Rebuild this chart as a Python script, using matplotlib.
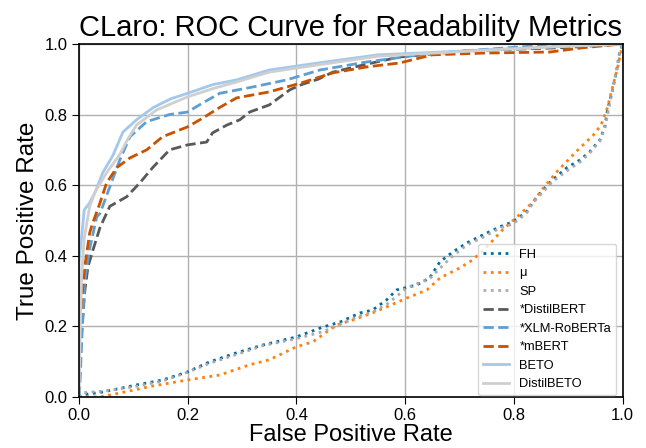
import matplotlib
matplotlib.use('Agg')
import matplotlib.pyplot as plt

plt.rcParams['font.family'] = ['Liberation Sans', 'DejaVu Sans']

# ROC points (fpr, tpr)
fh_fpr = [0, 0.007, 0.044, 0.106, 0.154, 0.2, 0.24, 0.29, 0.338, 0.40, 0.449, 0.48, 0.517, 0.54,
          0.566, 0.584, 0.621, 0.645, 0.664, 0.688, 0.713, 0.743, 0.774, 0.798, 0.823, 0.835,
          0.853, 0.871, 0.897, 0.921, 0.939, 0.958, 0.967, 0.972, 0.98, 0.989, 0.994, 1]
fh_tpr = [0, 0.006, 0.014, 0.034, 0.048, 0.071, 0.099, 0.125, 0.147, 0.17, 0.198, 0.212, 0.238, 0.246,
          0.275, 0.303, 0.317, 0.337, 0.383, 0.411, 0.436, 0.459, 0.482, 0.496, 0.524, 0.552,
          0.586, 0.615, 0.649, 0.671, 0.694, 0.728, 0.765, 0.813, 0.861, 0.926, 0.974, 1]

mu_fpr = [0, 0.04, 0.075, 0.136, 0.2, 0.259, 0.314, 0.35, 0.40, 0.43, 0.474, 0.504, 0.54, 0.566,
          0.603, 0.64, 0.664, 0.70, 0.724, 0.75, 0.779, 0.81, 0.835, 0.853, 0.88, 0.921, 0.945,
          0.96, 0.972, 0.98, 0.99, 1]
mu_tpr = [0, 0.0, 0.011, 0.031, 0.048, 0.062, 0.091, 0.105, 0.142, 0.156, 0.204, 0.218, 0.238, 0.255,
          0.28, 0.303, 0.337, 0.365, 0.388, 0.425, 0.473, 0.516, 0.552, 0.59, 0.64, 0.705, 0.74,
          0.77, 0.82, 0.87, 0.93, 1]

sp_fpr = [0, 0.007, 0.044, 0.106, 0.154, 0.2, 0.24, 0.29, 0.338, 0.40, 0.449, 0.48, 0.517, 0.54,
          0.566, 0.603, 0.645, 0.664, 0.688, 0.713, 0.743, 0.774, 0.798, 0.823, 0.835, 0.871,
          0.897, 0.921, 0.939, 0.958, 0.967, 0.98, 0.994, 1]
sp_tpr = [0, 0.012, 0.016, 0.03, 0.045, 0.07, 0.095, 0.12, 0.145, 0.165, 0.185, 0.205, 0.23, 0.24,
          0.262, 0.309, 0.335, 0.365, 0.40, 0.43, 0.452, 0.478, 0.49, 0.52, 0.55, 0.61,
          0.64, 0.665, 0.69, 0.725, 0.76, 0.86, 0.97, 1]

distilbert_fpr = [0, 0.005, 0.011, 0.017, 0.026, 0.039, 0.057, 0.088, 0.112, 0.136, 0.167, 0.2,
                  0.235, 0.246, 0.272, 0.296, 0.314, 0.35, 0.388, 0.41, 0.44, 0.467, 0.53, 0.59,
                  0.71, 0.9, 1]
distilbert_tpr = [0, 0.18, 0.30, 0.37, 0.416, 0.48, 0.54, 0.567, 0.606, 0.65, 0.70, 0.714,
                  0.722, 0.748, 0.77, 0.785, 0.807, 0.827, 0.87, 0.885, 0.9, 0.92, 0.943, 0.963,
                  0.98, 0.99, 1]

xlm_fpr = [0, 0.002, 0.005, 0.011, 0.02, 0.033, 0.039, 0.057, 0.075, 0.094, 0.125, 0.167, 0.2,
           0.228, 0.259, 0.32, 0.382, 0.443, 0.53, 0.65, 0.835, 1]
xlm_tpr = [0, 0.03, 0.15, 0.33, 0.42, 0.51, 0.52, 0.595, 0.67, 0.737, 0.78, 0.80, 0.807,
           0.833, 0.86, 0.878, 0.898, 0.926, 0.949, 0.974, 0.994, 1]

mbert_fpr = [0, 0, 0.005, 0.011, 0.02, 0.025, 0.039, 0.051, 0.07, 0.094, 0.125, 0.154, 0.2,
             0.228, 0.259, 0.29, 0.35, 0.41, 0.467, 0.53, 0.59, 0.65, 0.743, 0.866, 0.926, 1]
mbert_tpr = [0, 0.13, 0.275, 0.37, 0.465, 0.49, 0.55, 0.606, 0.65, 0.677, 0.70, 0.737, 0.765,
             0.79, 0.82, 0.847, 0.864, 0.89, 0.918, 0.935, 0.946, 0.969, 0.974, 0.977, 0.989, 1]

beto_fpr = [0, 0, 0.005, 0.01, 0.02, 0.03, 0.044, 0.063, 0.081, 0.106, 0.137, 0.17, 0.2, 0.247,
            0.29, 0.35, 0.44, 0.55, 0.71, 0.9, 1]
beto_tpr = [0, 0.38, 0.45, 0.53, 0.55, 0.58, 0.635, 0.685, 0.75, 0.785, 0.82, 0.845, 0.86, 0.885,
            0.898, 0.926, 0.946, 0.969, 0.98, 0.994, 1]

distilbeto_fpr = [0, 0.005, 0.01, 0.02, 0.03, 0.051, 0.075, 0.09, 0.106, 0.143, 0.2, 0.25, 0.29,
                  0.35, 0.437, 0.55, 0.7, 0.85, 1]
distilbeto_tpr = [0, 0.34, 0.45, 0.54, 0.58, 0.635, 0.686, 0.73, 0.77, 0.813, 0.85, 0.875, 0.892,
                  0.92, 0.94, 0.965, 0.978, 0.99, 1]

curves = [
    ("FH", fh_fpr, fh_tpr, '#006BA4', ':'),
    ("μ", mu_fpr, mu_tpr, '#FF800E', ':'),
    ("SP", sp_fpr, sp_tpr, '#ABABAB', ':'),
    ("*DistilBERT", distilbert_fpr, distilbert_tpr, '#595959', '--'),
    ("*XLM-RoBERTa", xlm_fpr, xlm_tpr, '#5F9ED1', '--'),
    ("*mBERT", mbert_fpr, mbert_tpr, '#C85200', '--'),
    ("BETO", beto_fpr, beto_tpr, '#A2C8EC', '-'),
    ("DistilBETO", distilbeto_fpr, distilbeto_tpr, '#CFCFCF', '-'),
]

fig = plt.figure(figsize=(6.46, 4.48), dpi=100)
ax = fig.add_axes([0.122, 0.114, 0.842, 0.788])

for name, fpr, tpr, color, ls in curves:
    ax.plot(fpr, tpr, linestyle=ls, color=color, linewidth=2, label=name)

ax.set_xlim(0, 1)
ax.set_ylim(0, 1)
ax.grid(True, color='#b0b0b0', linewidth=1)
ax.set_axisbelow(True)
for sp in ax.spines.values():
    sp.set_color('black')
    sp.set_linewidth(1.2)
ax.tick_params(labelsize=12, length=5, pad=3)

ax.set_title("CLaro: ROC Curve for Readability Metrics", fontsize=21)
# label sits right at the bottom edge, as in the original
ax.set_xlabel("False Positive Rate", fontsize=17, labelpad=1)
ax.set_ylabel("True Positive Rate", fontsize=17.5)

ax.legend(loc='lower right', bbox_to_anchor=(1.0, -0.014), fontsize=9.3)

fig.savefig("out.png", dpi=100)
